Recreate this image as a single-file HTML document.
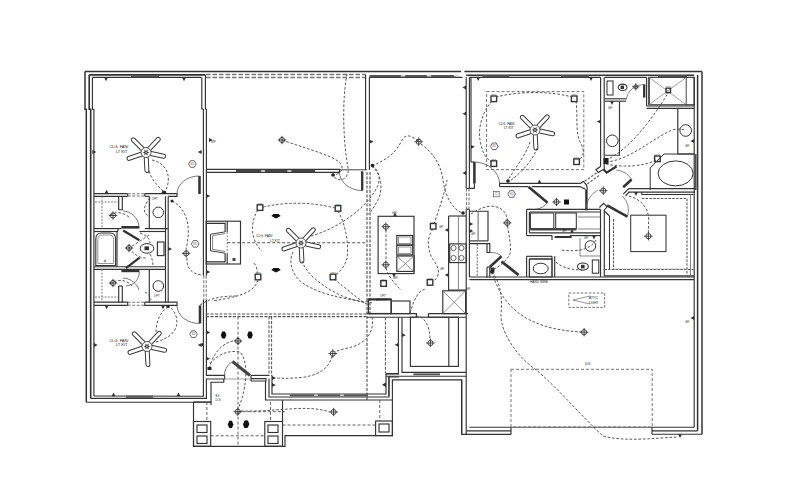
<!DOCTYPE html><html><head><meta charset="utf-8"><style>
html,body{margin:0;padding:0;background:#fff;}
svg{display:block;font-family:"Liberation Sans",sans-serif;}
</style></head><body>
<svg width="800" height="500" viewBox="0 0 800 500">
<rect width="800" height="500" fill="#fff"/>
<path d="M85.0,71.5 L85.0,109.2 L86.3,109.2 L86.3,402.2" stroke="#333" stroke-width="1.49" fill="none"/>
<path d="M89.2,74.9 L89.2,109.2 L90.7,109.2 L90.7,398.4" stroke="#333" stroke-width="1.61" fill="none"/>
<path d="M92.4,77.4 L92.4,109.2 L93.9,109.2 L93.9,396.0" stroke="#333" stroke-width="1.15" fill="none"/>
<path d="M85.0,71.5 L461.0,71.5" stroke="#333" stroke-width="1.38" fill="none"/>
<path d="M464.4,71.5 L702.0,71.5" stroke="#333" stroke-width="1.38" fill="none"/>
<path d="M89.2,74.9 L205.4,74.9" stroke="#333" stroke-width="1.61" fill="none"/>
<path d="M92.4,77.4 L201.6,77.4" stroke="#333" stroke-width="1.15" fill="none"/>
<rect x="131.0" y="75.2" width="28.0" height="2.0" fill="#555"/>
<path d="M201.8,77.4 L201.8,109.0 L203.4,109.0" stroke="#333" stroke-width="1.15" fill="none"/>
<path d="M205.4,74.9 L205.4,109.0 L206.4,109.0" stroke="#333" stroke-width="1.15" fill="none"/>
<path d="M206.0,74.6 L366.0,74.6" stroke="#777" stroke-width="1.49" fill="none" stroke-dasharray="4.5,2"/>
<path d="M206.0,77.4 L366.0,77.4" stroke="#777" stroke-width="1.49" fill="none" stroke-dasharray="4.5,2"/>
<path d="M93.9,193.6 L127.7,193.6" stroke="#333" stroke-width="1.15" fill="none"/>
<path d="M93.9,196.3 L127.7,196.3" stroke="#333" stroke-width="1.15" fill="none"/>
<path d="M127.7,193.6 L127.7,196.3" stroke="#333" stroke-width="1.15" fill="none"/>
<path d="M127.7,193.8 L144.8,193.8" stroke="#777" stroke-width="1.03" fill="none" stroke-dasharray="3,1.5"/>
<path d="M127.7,196.0 L144.8,196.0" stroke="#777" stroke-width="1.03" fill="none" stroke-dasharray="3,1.5"/>
<path d="M144.8,193.6 L177.0,193.6 L177.0,196.3 L168.2,196.3" stroke="#333" stroke-width="1.15" fill="none"/>
<path d="M144.8,196.3 L144.8,193.6" stroke="#333" stroke-width="1.15" fill="none"/>
<path d="M144.8,196.3 L149.3,196.3" stroke="#333" stroke-width="1.15" fill="none"/>
<path d="M199.5,176.0 L199.5,194.0" stroke="#333" stroke-width="2.53" fill="none"/>
<path d="M177,194 A22,18 0 0 1 199.5,176" stroke="#555" stroke-width="0.80" fill="none"/>
<path d="M118.7,196.3 L118.7,209.7 L122.3,209.7 L122.3,196.3" stroke="#333" stroke-width="1.15" fill="none"/>
<path d="M93.9,228.6 L121.4,228.6" stroke="#333" stroke-width="1.15" fill="none"/>
<rect x="121.4" y="226.0" width="18.0" height="2.6" fill="#333"/>
<path d="M149.3,196.3 L149.3,228.6 L168.2,228.6" stroke="#333" stroke-width="1.15" fill="none"/>
<path d="M144.8,228.6 L149.3,228.6" stroke="#333" stroke-width="1.15" fill="none"/>
<path d="M95.0,202.0 L118.0,202.0" stroke="#777" stroke-width="0.92" fill="none" stroke-dasharray="2,1.2"/>
<path d="M102.0,196.5 L102.0,228.0" stroke="#777" stroke-width="0.92" fill="none" stroke-dasharray="2,1.2"/>
<circle cx="158.3" cy="212.4" r="5.3" fill="none" stroke="#333" stroke-width="1"/>
<path d="M165.5,196.3 L165.5,302.5" stroke="#333" stroke-width="1.15" fill="none"/>
<path d="M168.2,196.3 L168.2,302.5" stroke="#333" stroke-width="1.15" fill="none"/>
<path d="M93.9,231.5 L118.0,231.5" stroke="#333" stroke-width="1.15" fill="none"/>
<path d="M118.0,231.5 L118.0,228.6" stroke="#333" stroke-width="1.15" fill="none"/>
<path d="M139.4,231.5 L165.5,231.5" stroke="#333" stroke-width="1.15" fill="none"/>
<path d="M95.8,265.5 L95.8,239 Q95.8,233 101.5,233 L110,233 Q115.6,233 115.6,239 L115.6,265.5 Z" fill="none" stroke="#333" stroke-width="1.1"/>
<path d="M97.8,263.5 L97.8,239.5 Q97.8,235 102,235 L109.5,235 Q113.6,235 113.6,239.5 L113.6,263.5 Z" fill="none" stroke="#777" stroke-width="0.8"/>
<circle cx="105" cy="261" r="0.9" fill="none" stroke="#444" stroke-width="0.6"/>
<path d="M117.0,231.5 L117.0,266.5" stroke="#333" stroke-width="1.15" fill="none"/>
<ellipse cx="147" cy="248.4" rx="6.8" ry="4.8" fill="none" stroke="#333" stroke-width="1"/>
<rect x="144.5" y="246.4" width="4.5" height="3.8" fill="#333"/>
<rect x="157.4" y="242.0" width="6.6" height="13.6" stroke="#333" stroke-width="1.15" fill="none"/>
<path d="M123.2,230.4 L139.4,240.3" stroke="#333" stroke-width="2.30" fill="none"/>
<path d="M126.0,268.2 L139.6,257.6" stroke="#333" stroke-width="2.30" fill="none"/>
<path d="M93.9,266.7 L165.5,266.7" stroke="#333" stroke-width="1.15" fill="none"/>
<path d="M93.9,269.4 L165.5,269.4" stroke="#333" stroke-width="1.15" fill="none"/>
<path d="M118.7,286.0 L118.7,302.7" stroke="#333" stroke-width="1.15" fill="none"/>
<path d="M122.3,286.0 L122.3,302.7" stroke="#333" stroke-width="1.15" fill="none"/>
<path d="M118.7,286.0 L122.3,286.0" stroke="#333" stroke-width="1.15" fill="none"/>
<rect x="121.4" y="269.6" width="18.0" height="2.6" fill="#333"/>
<path d="M139.4,272 C139,280 134,285 126,286" stroke="#555" stroke-width="0.80" fill="none"/>
<path d="M149.3,269.4 L149.3,302.7" stroke="#333" stroke-width="1.15" fill="none"/>
<circle cx="158.3" cy="286" r="5.3" fill="none" stroke="#333" stroke-width="1"/>
<path d="M95.0,297.0 L118.0,297.0" stroke="#777" stroke-width="0.92" fill="none" stroke-dasharray="2,1.2"/>
<path d="M102.0,269.4 L102.0,302.0" stroke="#777" stroke-width="0.92" fill="none" stroke-dasharray="2,1.2"/>
<path d="M93.9,302.1 L127.7,302.1" stroke="#333" stroke-width="1.15" fill="none"/>
<path d="M93.9,305.4 L127.7,305.4" stroke="#333" stroke-width="1.15" fill="none"/>
<path d="M127.7,302.1 L127.7,305.4" stroke="#333" stroke-width="1.15" fill="none"/>
<path d="M127.7,302.3 L144.8,302.3" stroke="#777" stroke-width="1.03" fill="none" stroke-dasharray="3,1.5"/>
<path d="M127.7,305.2 L144.8,305.2" stroke="#777" stroke-width="1.03" fill="none" stroke-dasharray="3,1.5"/>
<path d="M144.8,302.1 L177.0,302.1 L177.0,305.4 L144.8,305.4 L144.8,302.1" stroke="#333" stroke-width="1.15" fill="none"/>
<path d="M200.0,305.4 L200.0,323.4" stroke="#333" stroke-width="2.53" fill="none"/>
<path d="M177,305.4 A22,18 0 0 0 200,323.4" stroke="#555" stroke-width="0.80" fill="none"/>
<path d="M203.4,109.0 L203.4,275.7" stroke="#333" stroke-width="1.15" fill="none"/>
<path d="M206.4,109.0 L206.4,275.7" stroke="#333" stroke-width="1.15" fill="none"/>
<path d="M203.4,300.0 L203.4,396.2 L93.9,396.0" stroke="#333" stroke-width="1.15" fill="none"/>
<path d="M206.4,300.0 L206.4,375.4 L224.6,375.4 L224.6,379.0 L206.4,379.0 L206.4,398.4 L90.7,398.4" stroke="#333" stroke-width="1.15" fill="none"/>
<path d="M211.0,402.2 L86.3,402.2" stroke="#333" stroke-width="1.15" fill="none"/>
<path d="M211.0,405.0 L211.0,382.2 L223.8,382.2 L223.8,379.0" stroke="#333" stroke-width="1.15" fill="none"/>
<path d="M203.8,275.7 L203.8,300.0" stroke="#777" stroke-width="1.03" fill="none" stroke-dasharray="3,1.5"/>
<path d="M206.2,275.7 L206.2,300.0" stroke="#777" stroke-width="1.03" fill="none" stroke-dasharray="3,1.5"/>
<rect x="126.0" y="395.6" width="27.0" height="2.2" fill="#555"/>
<line x1="143.2" y1="149.7" x2="133.3" y2="139.8" stroke="#3a3a3a" stroke-width="5.0" stroke-linecap="round"/><line x1="143.2" y1="149.7" x2="133.3" y2="139.8" stroke="#fff" stroke-width="3.0" stroke-linecap="round"/><line x1="148.7" y1="149.6" x2="158.3" y2="139.3" stroke="#3a3a3a" stroke-width="5.0" stroke-linecap="round"/><line x1="148.7" y1="149.6" x2="158.3" y2="139.3" stroke="#fff" stroke-width="3.0" stroke-linecap="round"/><line x1="149.9" y1="153.3" x2="163.6" y2="156.2" stroke="#3a3a3a" stroke-width="5.0" stroke-linecap="round"/><line x1="149.9" y1="153.3" x2="163.6" y2="156.2" stroke="#fff" stroke-width="3.0" stroke-linecap="round"/><line x1="146.2" y1="156.5" x2="146.9" y2="170.5" stroke="#3a3a3a" stroke-width="5.0" stroke-linecap="round"/><line x1="146.2" y1="156.5" x2="146.9" y2="170.5" stroke="#fff" stroke-width="3.0" stroke-linecap="round"/><line x1="142.2" y1="153.8" x2="129.0" y2="158.4" stroke="#3a3a3a" stroke-width="5.0" stroke-linecap="round"/><line x1="142.2" y1="153.8" x2="129.0" y2="158.4" stroke="#fff" stroke-width="3.0" stroke-linecap="round"/>
<circle cx="146" cy="152.5" r="5" fill="#fff" stroke="#555" stroke-width="1"/>
<polygon points="149.4,152.5 147.4,153.3 147.7,155.4 146.0,154.1 144.3,155.4 144.6,153.3 142.6,152.5 144.6,151.7 144.3,149.6 146.0,150.9 147.7,149.6 147.4,151.7" fill="#333"/>
<circle cx="146" cy="152.5" r="0.9" fill="#bbb"/>
<line x1="144.2" y1="343.7" x2="134.3" y2="333.8" stroke="#3a3a3a" stroke-width="5.0" stroke-linecap="round"/><line x1="144.2" y1="343.7" x2="134.3" y2="333.8" stroke="#fff" stroke-width="3.0" stroke-linecap="round"/><line x1="149.7" y1="343.6" x2="159.3" y2="333.3" stroke="#3a3a3a" stroke-width="5.0" stroke-linecap="round"/><line x1="149.7" y1="343.6" x2="159.3" y2="333.3" stroke="#fff" stroke-width="3.0" stroke-linecap="round"/><line x1="150.9" y1="347.3" x2="164.6" y2="350.2" stroke="#3a3a3a" stroke-width="5.0" stroke-linecap="round"/><line x1="150.9" y1="347.3" x2="164.6" y2="350.2" stroke="#fff" stroke-width="3.0" stroke-linecap="round"/><line x1="147.2" y1="350.5" x2="147.9" y2="364.5" stroke="#3a3a3a" stroke-width="5.0" stroke-linecap="round"/><line x1="147.2" y1="350.5" x2="147.9" y2="364.5" stroke="#fff" stroke-width="3.0" stroke-linecap="round"/><line x1="143.2" y1="347.8" x2="130.0" y2="352.4" stroke="#3a3a3a" stroke-width="5.0" stroke-linecap="round"/><line x1="143.2" y1="347.8" x2="130.0" y2="352.4" stroke="#fff" stroke-width="3.0" stroke-linecap="round"/>
<circle cx="147" cy="346.5" r="5" fill="#fff" stroke="#555" stroke-width="1"/>
<polygon points="150.4,346.5 148.4,347.3 148.7,349.4 147.0,348.1 145.3,349.4 145.6,347.3 143.6,346.5 145.6,345.7 145.3,343.6 147.0,344.9 148.7,343.6 148.4,345.7" fill="#333"/>
<circle cx="147" cy="346.5" r="0.9" fill="#bbb"/>
<text x="109.5" y="148" font-size="3.9" fill="#222" text-anchor="start">CLG. FAN/</text>
<text x="116" y="152.5" font-size="3.9" fill="#222" text-anchor="start">LT KIT</text>
<text x="109.5" y="341.5" font-size="3.9" fill="#222" text-anchor="start">CLG. FAN/</text>
<text x="116" y="346" font-size="3.9" fill="#222" text-anchor="start">LT KIT</text>
<polygon points="196.2,164.0 194.3,167.3 190.5,167.3 188.6,164.0 190.5,160.7 194.3,160.7" fill="none" stroke="#444" stroke-width="0.8"/>
<text x="192.4" y="165.1" font-size="3" fill="#555" text-anchor="middle">SD</text>
<polygon points="199.0,243.9 197.1,247.2 193.3,247.2 191.4,243.9 193.3,240.6 197.1,240.6" fill="none" stroke="#444" stroke-width="0.8"/>
<text x="195.2" y="245.0" font-size="3" fill="#555" text-anchor="middle">SD</text>
<circle cx="186.2" cy="253.4" r="2.6" fill="none" stroke="#333" stroke-width="0.9"/>
<path d="M182.0,253.4 L190.4,253.4" stroke="#333" stroke-width="0.92" fill="none"/>
<path d="M186.2,249.2 L186.2,257.6" stroke="#333" stroke-width="0.92" fill="none"/>
<circle cx="113" cy="215.5" r="2.6" fill="none" stroke="#333" stroke-width="0.9"/>
<path d="M108.8,215.5 L117.2,215.5" stroke="#333" stroke-width="0.92" fill="none"/>
<path d="M113.0,211.3 L113.0,219.7" stroke="#333" stroke-width="0.92" fill="none"/>
<circle cx="113" cy="283" r="2.6" fill="none" stroke="#333" stroke-width="0.9"/>
<path d="M108.8,283.0 L117.2,283.0" stroke="#333" stroke-width="0.92" fill="none"/>
<path d="M113.0,278.8 L113.0,287.2" stroke="#333" stroke-width="0.92" fill="none"/>
<polygon points="92.4,150.1 92.4,153.9 96.2,152.0" fill="#333"/>
<polygon points="201.6,150.1 201.6,153.9 197.8,152.0" fill="#333"/>
<polygon points="93.9,343.1 93.9,346.9 97.7,345.0" fill="#333"/>
<polygon points="201.6,343.1 201.6,346.9 197.8,345.0" fill="#333"/>
<polygon points="111.6,396.2 115.4,396.2 113.5,392.4" fill="#333"/>
<polygon points="176.6,396.2 180.4,396.2 178.5,392.4" fill="#333"/>
<polygon points="104.7,193.6 108.5,193.6 106.6,189.8" fill="#333"/>
<polygon points="161.1,193.6 164.9,193.6 163.0,189.8" fill="#333"/>
<polygon points="104.7,305.4 108.5,305.4 106.6,309.2" fill="#333"/>
<polygon points="161.1,305.4 164.9,305.4 163.0,309.2" fill="#333"/>
<path d="M206.0,169.4 L339.4,169.4 L339.4,172.4 L206.0,172.4" stroke="#333" stroke-width="1.15" fill="none"/>
<rect x="236.0" y="169.6" width="79.0" height="2.8" fill="#444"/>
<ellipse cx="263" cy="171" rx="2.5" ry="1" fill="#ccc"/>
<ellipse cx="289.4" cy="171" rx="2.5" ry="1" fill="#ccc"/>
<path d="M339.4,169.8 L367.0,169.8" stroke="#333" stroke-width="0.92" fill="none"/>
<path d="M362.2,171.3 L362.2,190.6" stroke="#333" stroke-width="2.30" fill="none"/>
<path d="M339.4,172 A23,19 0 0 0 362.2,190.6" stroke="#555" stroke-width="0.80" fill="none"/>
<path d="M365.6,74.9 L365.6,170.0" stroke="#333" stroke-width="1.15" fill="none"/>
<path d="M369.4,77.3 L369.4,170.0" stroke="#333" stroke-width="1.15" fill="none"/>
<path d="M369.4,77.3 L462.4,77.3" stroke="#333" stroke-width="1.15" fill="none"/>
<rect x="369.4" y="75.0" width="86.6" height="2.3" fill="#555"/>
<ellipse cx="403" cy="75.7" rx="2.5" ry="1" fill="#ccc"/>
<ellipse cx="429" cy="75.7" rx="2.5" ry="1" fill="#ccc"/>
<ellipse cx="456" cy="75.7" rx="2.5" ry="1" fill="#ccc"/>
<path d="M367.0,172.0 L367.0,400.0" stroke="#555" stroke-width="1.15" fill="none" stroke-dasharray="3,1.5"/>
<path d="M370.0,172.0 L370.0,316.0" stroke="#555" stroke-width="1.15" fill="none" stroke-dasharray="3,1.5"/>
<rect x="206.2" y="221.2" width="34.3" height="42.8" stroke="#333" stroke-width="1.15" fill="none"/>
<path d="M206.2,223.3 L225.1,223.3 L225.1,231.9" stroke="#333" stroke-width="1.15" fill="none"/>
<path d="M206.2,261.8 L225.1,261.8 L225.1,253.2" stroke="#333" stroke-width="1.15" fill="none"/>
<path d="M227.2,221.2 L227.2,231.9" stroke="#333" stroke-width="1.15" fill="none"/>
<path d="M227.2,253.2 L227.2,264.0" stroke="#333" stroke-width="1.15" fill="none"/>
<path d="M225.1,231.9 L210.5,234.2 L210.5,250.8 L225.1,253.2" stroke="#444" stroke-width="1.00" fill="none"/>
<path d="M225.1,233.6 L212.6,235.6 L212.6,249.4 L225.1,251.5" stroke="#666" stroke-width="0.80" fill="none"/>
<rect x="232.5" y="258" width="3" height="3" fill="#444"/>
<path d="M227.2,232.0 L227.2,253.0" stroke="#777" stroke-width="0.92" fill="none" stroke-dasharray="2,1.4"/>
<path d="M227.2,242.8 L367.0,242.8" stroke="#555" stroke-width="1.03" fill="none" stroke-dasharray="3,2"/>
<path d="M206.0,314.0 L367.0,314.0" stroke="#555" stroke-width="1.15" fill="none" stroke-dasharray="3,1.5"/>
<path d="M206.0,316.6 L367.0,316.6" stroke="#555" stroke-width="1.15" fill="none" stroke-dasharray="3,1.5"/>
<path d="M269.0,316.6 L269.0,376.0" stroke="#555" stroke-width="1.03" fill="none" stroke-dasharray="3,1.5"/>
<path d="M271.6,316.6 L271.6,376.0" stroke="#555" stroke-width="1.03" fill="none" stroke-dasharray="3,1.5"/>
<path d="M238.0,316.6 L238.0,446.0" stroke="#555" stroke-width="0.92" fill="none" stroke-dasharray="3,2"/>
<path d="M251.0,375.4 L269.0,375.4" stroke="#333" stroke-width="1.15" fill="none"/>
<path d="M251.0,378.6 L266.0,378.6 L266.0,381.0 L251.0,381.0" stroke="#333" stroke-width="1.15" fill="none"/>
<path d="M251.0,375.4 L251.0,381.0" stroke="#333" stroke-width="1.15" fill="none"/>
<path d="M272.0,375.4 L272.0,394.0 L386.0,394.0 L386.0,374.0 L399.0,374.0" stroke="#333" stroke-width="1.15" fill="none"/>
<path d="M269.0,378.6 L269.0,397.0 L389.0,397.0 L389.0,377.0 L398.8,377.0" stroke="#333" stroke-width="1.15" fill="none"/>
<path d="M265.5,381.0 L265.5,400.0 L392.4,400.0 L392.4,379.8 L461.7,379.8 L461.7,434.4 L511.0,434.4" stroke="#333" stroke-width="1.15" fill="none"/>
<rect x="290.0" y="394.4" width="78.0" height="2.0" fill="#555"/>
<ellipse cx="316" cy="395.2" rx="2.2" ry="0.9" fill="#ccc"/>
<ellipse cx="342" cy="395.2" rx="2.2" ry="0.9" fill="#ccc"/>
<path d="M232.5,361.5 L250.0,375.5" stroke="#444" stroke-width="2.99" fill="none"/>
<path d="M224.6,378 A17,17 0 0 1 232.5,361.5" stroke="#555" stroke-width="0.80" fill="none"/>
<text x="215.5" y="396.5" font-size="3" fill="#222" text-anchor="start">EX</text>
<text x="215.5" y="401" font-size="3" fill="#222" text-anchor="start">D.S.</text>
<path d="M224.6,379.0 L251.0,379.0" stroke="#999" stroke-width="0.92" fill="none"/>
<path d="M193.5,402.0 L193.5,446.3 L285.0,446.3 L285.0,435.6 L392.4,435.6 L392.4,400.0" stroke="#333" stroke-width="1.15" fill="none"/>
<path d="M193.5,402.0 L211.0,402.0" stroke="#333" stroke-width="1.15" fill="none"/>
<rect x="193.5" y="421.5" width="17.2" height="24.8" stroke="#333" stroke-width="1.15" fill="none"/>
<rect x="197.0" y="425.0" width="10.0" height="7.5" stroke="#333" stroke-width="1.15" fill="none"/>
<rect x="197.0" y="436.0" width="10.0" height="7.5" stroke="#333" stroke-width="1.15" fill="none"/>
<rect x="264.8" y="421.5" width="17.7" height="24.8" stroke="#333" stroke-width="1.15" fill="none"/>
<rect x="268.0" y="425.0" width="10.0" height="7.5" stroke="#333" stroke-width="1.15" fill="none"/>
<rect x="268.0" y="436.0" width="10.0" height="7.5" stroke="#333" stroke-width="1.15" fill="none"/>
<rect x="375.6" y="421.0" width="16.8" height="14.6" stroke="#333" stroke-width="1.15" fill="none"/>
<rect x="379.0" y="424.0" width="10.0" height="8.0" stroke="#333" stroke-width="1.15" fill="none"/>
<path d="M282.5,400.0 L282.5,421.5" stroke="#333" stroke-width="1.15" fill="none"/>
<path d="M206.9,402.0 L206.9,421.5" stroke="#555" stroke-width="0.92" fill="none" stroke-dasharray="3,2"/>
<path d="M270.5,402.0 L270.5,421.5" stroke="#555" stroke-width="0.92" fill="none" stroke-dasharray="3,2"/>
<path d="M210.7,435.8 L264.8,435.8" stroke="#555" stroke-width="0.92" fill="none" stroke-dasharray="3,2"/>
<path d="M282.5,425.0 L375.6,425.0" stroke="#555" stroke-width="0.92" fill="none" stroke-dasharray="3,2"/>
<path d="M379.8,400.0 L379.8,421.0" stroke="#555" stroke-width="0.92" fill="none" stroke-dasharray="3,2"/>
<path d="M237.8,411.7 L285.0,411.7" stroke="#555" stroke-width="0.92" fill="none" stroke-dasharray="3,2"/>
<rect x="378.1" y="216.3" width="35.9" height="57.3" stroke="#333" stroke-width="1.15" fill="none"/>
<rect x="396.8" y="235.5" width="15.9" height="9.5" stroke="#333" stroke-width="1.15" fill="none"/>
<rect x="396.8" y="245.3" width="15.9" height="9.6" stroke="#333" stroke-width="1.15" fill="none"/>
<rect x="398.5" y="237.0" width="12.5" height="6.5" stroke="#666" stroke-width="0.69" fill="none"/>
<rect x="398.5" y="247.0" width="12.5" height="6.3" stroke="#666" stroke-width="0.69" fill="none"/>
<rect x="396.8" y="256.0" width="17.2" height="15.4" stroke="#333" stroke-width="1.15" fill="none"/>
<path d="M396.8,256.0 L414.0,271.4" stroke="#666" stroke-width="0.69" fill="none"/>
<path d="M414.0,256.0 L396.8,271.4" stroke="#666" stroke-width="0.69" fill="none"/>
<path d="M448.6,216.0 L448.6,290.0 L466.0,290.0" stroke="#333" stroke-width="1.15" fill="none"/>
<path d="M448.6,216.0 L466.0,216.0" stroke="#333" stroke-width="1.15" fill="none"/>
<path d="M458.4,216.0 L458.4,290.0" stroke="#666" stroke-width="0.80" fill="none"/>
<rect x="449.7" y="243.9" width="16.5" height="18.7" stroke="#333" stroke-width="1.15" fill="none"/>
<circle cx="453.5" cy="248" r="2.6" fill="none" stroke="#444" stroke-width="0.8"/>
<circle cx="461.5" cy="248" r="2.6" fill="none" stroke="#444" stroke-width="0.8"/>
<circle cx="453.5" cy="258" r="2.6" fill="none" stroke="#444" stroke-width="0.8"/>
<circle cx="461.5" cy="258" r="2.6" fill="none" stroke="#444" stroke-width="0.8"/>
<path d="M466.2,77.3 L466.2,188.4" stroke="#333" stroke-width="1.15" fill="none"/>
<path d="M469.4,77.3 L469.4,188.4" stroke="#333" stroke-width="1.15" fill="none"/>
<path d="M466.2,209.2 L466.2,434.0" stroke="#333" stroke-width="1.15" fill="none"/>
<path d="M469.4,209.2 L469.4,277.0" stroke="#333" stroke-width="1.15" fill="none"/>
<path d="M466.2,188.4 L469.4,188.4" stroke="#333" stroke-width="1.15" fill="none"/>
<path d="M466.2,209.2 L469.4,209.2" stroke="#333" stroke-width="1.15" fill="none"/>
<path d="M466.6,188.4 L466.6,209.2" stroke="#777" stroke-width="1.03" fill="none" stroke-dasharray="3,1.5"/>
<path d="M469.0,188.4 L469.0,209.2" stroke="#777" stroke-width="1.03" fill="none" stroke-dasharray="3,1.5"/>
<rect x="368.4" y="299.2" width="22.8" height="14.4" stroke="#333" stroke-width="1.38" fill="none"/>
<rect x="368.4" y="298.5" width="22.8" height="2.0" fill="#333"/>
<rect x="391.2" y="301.0" width="18.8" height="12.6" stroke="#333" stroke-width="1.15" fill="none"/>
<path d="M367.2,313.6 L416.4,313.6 L416.4,317.2 L367.2,317.2" stroke="#333" stroke-width="1.15" fill="none"/>
<path d="M428.4,313.6 L468.0,313.6" stroke="#333" stroke-width="1.15" fill="none"/>
<path d="M428.4,317.2 L466.2,317.2" stroke="#333" stroke-width="1.15" fill="none"/>
<path d="M428.4,313.6 L428.4,317.2" stroke="#333" stroke-width="1.15" fill="none"/>
<rect x="442.8" y="290.8" width="22.8" height="22.8" stroke="#333" stroke-width="1.15" fill="none"/>
<path d="M442.8,290.8 L465.6,313.6" stroke="#666" stroke-width="0.69" fill="none"/>
<path d="M465.6,290.8 L442.8,313.6" stroke="#666" stroke-width="0.69" fill="none"/>
<path d="M398.4,317.2 L398.4,373.6 L386.0,373.6" stroke="#333" stroke-width="1.15" fill="none"/>
<path d="M402.0,317.2 L402.0,372.4 L466.2,372.4" stroke="#333" stroke-width="1.15" fill="none"/>
<path d="M386.0,376.2 L466.2,376.2" stroke="#333" stroke-width="1.15" fill="none"/>
<path d="M388.9,376.2 L388.9,396.0" stroke="#333" stroke-width="1.15" fill="none"/>
<rect x="413.4" y="373.4" width="26.6" height="1.9" fill="#555"/>
<rect x="410.4" y="317.2" width="48.0" height="49.2" stroke="#333" stroke-width="1.15" fill="none"/>
<path d="M448.8,317.2 L448.8,366.4" stroke="#333" stroke-width="1.15" fill="none"/>
<path d="M385.4,317.2 L385.4,373.6" stroke="#555" stroke-width="1.03" fill="none" stroke-dasharray="3,1.5"/>
<path d="M469.4,77.3 L600.6,77.3" stroke="#333" stroke-width="1.15" fill="none"/>
<path d="M466.2,75.2 L694.2,75.2" stroke="#333" stroke-width="1.38" fill="none"/>
<rect x="482.5" y="75.2" width="26.9" height="2.1" fill="#555"/>
<rect x="561.0" y="75.2" width="28.0" height="2.1" fill="#555"/>
<rect x="658.0" y="75.2" width="29.0" height="2.1" fill="#555"/>
<path d="M471.0,77.3 L471.0,162.0" stroke="#333" stroke-width="1.15" fill="none"/>
<path d="M600.6,77.3 L600.6,166.2" stroke="#333" stroke-width="1.15" fill="none"/>
<path d="M604.2,77.3 L604.2,170.8" stroke="#333" stroke-width="1.15" fill="none"/>
<path d="M474.4,162.0 L474.4,183.6" stroke="#333" stroke-width="2.53" fill="none"/>
<path d="M474.4,162 A26,22 0 0 1 499.6,183.6" stroke="#555" stroke-width="0.80" fill="none"/>
<path d="M471.0,162.0 L474.4,162.0" stroke="#333" stroke-width="1.15" fill="none"/>
<path d="M469.4,188.4 L474.4,188.4 L474.4,183.6" stroke="#333" stroke-width="1.15" fill="none"/>
<path d="M499.6,183.3 L579.8,183.3" stroke="#333" stroke-width="1.15" fill="none"/>
<path d="M499.6,186.6 L528.0,186.6" stroke="#333" stroke-width="1.15" fill="none"/>
<path d="M499.6,183.3 L499.6,186.6" stroke="#333" stroke-width="1.15" fill="none"/>
<path d="M532.0,186.6 L580.0,186.6" stroke="#333" stroke-width="1.15" fill="none"/>
<path d="M528.4,186.8 L547.6,202.8" stroke="#333" stroke-width="2.53" fill="none"/>
<path d="M547.6,202.8 A20,20 0 0 1 529,209.2" stroke="#555" stroke-width="0.80" fill="none"/>
<rect x="486.6" y="91.6" width="97.2" height="78.0" stroke="#666" stroke-width="0.92" fill="none" stroke-dasharray="3,2"/>
<path d="M604.6,77.3 L646.6,77.3" stroke="#333" stroke-width="1.15" fill="none"/>
<path d="M604.6,98.8 L626.2,98.8" stroke="#333" stroke-width="1.15" fill="none"/>
<path d="M604.6,101.2 L626.2,101.2" stroke="#333" stroke-width="1.15" fill="none"/>
<rect x="607.0" y="81.0" width="6.0" height="14.0" stroke="#333" stroke-width="1.03" fill="none"/>
<ellipse cx="622.6" cy="87.3" rx="4.4" ry="3.2" fill="none" stroke="#333" stroke-width="1.1"/>
<rect x="620.6" y="85.6" width="3.4" height="3.4" fill="#333"/>
<path d="M644.2,84.4 L644.2,97.6" stroke="#333" stroke-width="2.30" fill="none"/>
<path d="M646.6,77.3 L646.6,106.0" stroke="#333" stroke-width="1.15" fill="none"/>
<path d="M649.0,77.3 L649.0,104.8" stroke="#333" stroke-width="1.15" fill="none"/>
<rect x="649.0" y="77.3" width="45.2" height="27.5" stroke="#333" stroke-width="1.15" fill="none"/>
<path d="M649.0,77.3 L686.2,104.8" stroke="#777" stroke-width="0.69" fill="none"/>
<path d="M686.2,77.3 L649.0,104.8" stroke="#777" stroke-width="0.69" fill="none"/>
<path d="M686.2,77.3 L686.2,104.8" stroke="#333" stroke-width="0.92" fill="none"/>
<path d="M646.6,106.0 L694.2,106.0" stroke="#333" stroke-width="1.15" fill="none"/>
<path d="M646.6,108.4 L694.2,108.4" stroke="#333" stroke-width="1.15" fill="none"/>
<path d="M619.5,101.2 L619.5,155.2 L604.6,155.2" stroke="#333" stroke-width="1.15" fill="none"/>
<circle cx="612.3" cy="140.8" r="5.8" fill="none" stroke="#333" stroke-width="1"/>
<path d="M677.8,108.4 L677.8,154.0 L694.2,154.0" stroke="#333" stroke-width="1.15" fill="none"/>
<circle cx="685.7" cy="130.5" r="5.8" fill="none" stroke="#333" stroke-width="1"/>
<path d="M650.2,190 L650.2,168 L664,154 L694.2,154" stroke="#333" stroke-width="1.00" fill="none"/>
<ellipse cx="675.6" cy="173.4" rx="17.5" ry="12.5" fill="none" stroke="#333" stroke-width="1"/>
<path d="M702.0,71.5 L702.0,434.2" stroke="#333" stroke-width="1.49" fill="none"/>
<path d="M697.6,74.9 L697.6,430.8" stroke="#333" stroke-width="1.49" fill="none"/>
<path d="M694.2,77.3 L694.2,427.2" stroke="#333" stroke-width="1.15" fill="none"/>
<rect x="694.2" y="154.0" width="2.4" height="36.0" fill="#555"/>
<path d="M600.8,166.2 L595.9,169.7 L598.2,172.4 L603.6,169.2" stroke="#333" stroke-width="1.15" fill="none"/>
<path d="M603.6,169.2 L606.6,172.6 L616.5,166.5" stroke="#333" stroke-width="2.07" fill="none"/>
<path d="M596.5,173.0 L583.5,182.0" stroke="#666" stroke-width="1.26" fill="none" stroke-dasharray="2.5,1.5"/>
<path d="M599.0,175.5 L586.0,185.0" stroke="#666" stroke-width="1.26" fill="none" stroke-dasharray="2.5,1.5"/>
<path d="M579.8,183.7 L583.3,181.4 L586.4,184.8 L587.5,189.3" stroke="#333" stroke-width="1.15" fill="none"/>
<path d="M579.8,186.5 L585.4,189.3" stroke="#333" stroke-width="1.15" fill="none"/>
<rect x="585.2" y="189.3" width="2.4" height="21.0" fill="#333"/>
<path d="M586,210.3 A22,22 0 0 1 598,190" stroke="#666" stroke-width="0.70" fill="none"/>
<path d="M599.4,207.5 L603.6,203.3 L607.1,206.8 L603.6,211" stroke="#333" stroke-width="1.10" fill="none"/>
<path d="M607.1,205.4 L627.4,216.6" stroke="#333" stroke-width="2.53" fill="none"/>
<path d="M627.4,216.6 A21,21 0 0 0 622.5,196" stroke="#555" stroke-width="0.70" fill="none"/>
<path d="M623.2,194.2 L628.8,188.6 L695.0,188.6" stroke="#333" stroke-width="1.15" fill="none"/>
<path d="M625.5,196.2 L628.8,192.1 L695.0,192.1" stroke="#333" stroke-width="1.15" fill="none"/>
<path d="M623.2,187.2 L631.6,179.5" stroke="#333" stroke-width="2.53" fill="none"/>
<path d="M631.6,179.5 A20,20 0 0 0 616.5,170" stroke="#555" stroke-width="0.70" fill="none"/>
<path d="M600.5,209.4 L600.5,277.0" stroke="#333" stroke-width="1.15" fill="none"/>
<path d="M604.3,211.0 L604.3,275.8 L694.2,275.8" stroke="#333" stroke-width="1.15" fill="none"/>
<path d="M604.3,211.0 L609.5,216.0" stroke="#333" stroke-width="1.15" fill="none"/>
<rect x="630.7" y="215.2" width="35.3" height="36.4" stroke="#333" stroke-width="1.03" fill="none"/>
<path d="M641.8,192.1 L641.8,194.6 L693.5,194.6" stroke="#333" stroke-width="1.03" fill="none"/>
<path d="M641.8,198.6 L687.0,198.6" stroke="#555" stroke-width="1.03" fill="none" stroke-dasharray="2.5,1.3"/>
<path d="M609.5,216.0 L609.5,269.5" stroke="#333" stroke-width="1.03" fill="none"/>
<path d="M613.5,219.0 L613.5,269.2" stroke="#555" stroke-width="1.03" fill="none" stroke-dasharray="2.5,1.3"/>
<path d="M604.3,269.5 L693.5,269.5" stroke="#555" stroke-width="1.03" fill="none" stroke-dasharray="2.5,1.3"/>
<path d="M613.5,269.2 L687.0,269.2" stroke="#777" stroke-width="0.69" fill="none"/>
<path d="M687.0,198.7 L687.0,275.0" stroke="#555" stroke-width="1.03" fill="none" stroke-dasharray="2.5,1.3"/>
<path d="M690.5,194.6 L690.5,275.0" stroke="#666" stroke-width="0.80" fill="none"/>
<path d="M469.4,211.2 L488.0,211.2 L488.0,240.9" stroke="#333" stroke-width="1.15" fill="none"/>
<path d="M478.1,212.0 L478.1,240.0" stroke="#555" stroke-width="0.92" fill="none"/>
<path d="M469.4,240.9 L488.0,240.9" stroke="#333" stroke-width="1.15" fill="none"/>
<path d="M469.4,243.6 L489.8,243.6 L489.8,252.5 L487.0,252.5 L487.0,243.6" stroke="#333" stroke-width="1.15" fill="none"/>
<path d="M477.2,244.0 L477.2,276.0" stroke="#666" stroke-width="1.03" fill="none" stroke-dasharray="2,1.3"/>
<path d="M489.8,267.0 L501.5,256.2" stroke="#333" stroke-width="2.53" fill="none"/>
<path d="M489.8,252.5 Q497,252 501.5,256.2" stroke="#555" stroke-width="0.70" fill="none"/>
<path d="M487.0,267.0 L489.8,267.0 L489.8,277.7" stroke="#333" stroke-width="1.15" fill="none"/>
<path d="M487.0,267.0 L487.0,277.7" stroke="#333" stroke-width="1.15" fill="none"/>
<path d="M501.5,261.5 L518.6,275.0" stroke="#333" stroke-width="2.76" fill="none"/>
<rect x="490.5" y="267.5" width="4" height="5" fill="#333"/>
<path d="M469.4,277.0 L694.2,277.0" stroke="#333" stroke-width="1.15" fill="none"/>
<path d="M469.4,279.6 L694.2,279.6" stroke="#333" stroke-width="1.15" fill="none"/>
<path d="M526.6,209.4 L600.5,209.4" stroke="#333" stroke-width="1.15" fill="none"/>
<path d="M526.6,209.4 L526.6,235.6" stroke="#333" stroke-width="1.15" fill="none"/>
<path d="M529.4,212.0 L529.4,232.8" stroke="#333" stroke-width="1.15" fill="none"/>
<path d="M529.4,212.0 L600.5,212.0" stroke="#333" stroke-width="1.15" fill="none"/>
<rect x="530.4" y="213.0" width="23.4" height="16.0" stroke="#333" stroke-width="1.03" fill="none"/>
<rect x="555.7" y="213.0" width="20.6" height="16.0" stroke="#333" stroke-width="1.03" fill="none"/>
<rect x="530.4" y="228.0" width="45.9" height="2.5" fill="#444"/>
<path d="M578.0,217.0 L600.5,217.0" stroke="#666" stroke-width="0.80" fill="none"/>
<path d="M578.0,229.0 L600.5,229.0" stroke="#666" stroke-width="0.80" fill="none"/>
<path d="M529.4,232.8 L600.5,232.8" stroke="#333" stroke-width="1.15" fill="none"/>
<path d="M526.6,235.6 L552.0,235.6" stroke="#333" stroke-width="1.15" fill="none"/>
<path d="M570.0,235.6 L600.5,235.6" stroke="#333" stroke-width="1.15" fill="none"/>
<path d="M552.0,235.6 L552.0,240.0" stroke="#333" stroke-width="1.15" fill="none"/>
<path d="M554.7,237.0 L571.6,237.0" stroke="#333" stroke-width="2.07" fill="none"/>
<path d="M552.0,256.3 L552.0,277.0" stroke="#333" stroke-width="1.15" fill="none"/>
<path d="M554.7,256.3 L554.7,277.0" stroke="#333" stroke-width="1.15" fill="none"/>
<path d="M526.6,256.3 L552.0,256.3" stroke="#333" stroke-width="1.15" fill="none"/>
<path d="M529.4,259.0 L552.0,259.0" stroke="#333" stroke-width="1.15" fill="none"/>
<path d="M526.6,256.3 L526.6,277.0" stroke="#333" stroke-width="1.15" fill="none"/>
<path d="M529.4,259.0 L529.4,277.0" stroke="#333" stroke-width="1.15" fill="none"/>
<ellipse cx="540.7" cy="268.5" rx="7.5" ry="5.3" fill="none" stroke="#333" stroke-width="1"/>
<rect x="529.4" y="259.0" width="22.6" height="18.0" stroke="#333" stroke-width="0.92" fill="none"/>
<circle cx="590.4" cy="246" r="5.3" fill="none" stroke="#333" stroke-width="1"/>
<path d="M580.0,238.0 L580.0,256.0 L600.5,256.0" stroke="#666" stroke-width="0.80" fill="none"/>
<ellipse cx="582.9" cy="266.6" rx="5.4" ry="3.6" fill="none" stroke="#333" stroke-width="1.1"/>
<rect x="581.0" y="264.8" width="3.6" height="3.6" fill="#333"/>
<rect x="592.3" y="260.0" width="6.5" height="13.2" stroke="#333" stroke-width="1.03" fill="none"/>
<path d="M469.4,427.2 L511.0,427.2" stroke="#333" stroke-width="1.15" fill="none"/>
<path d="M466.6,430.8 L511.0,430.8" stroke="#333" stroke-width="1.15" fill="none"/>
<path d="M511.0,427.2 L511.0,434.4" stroke="#333" stroke-width="1.15" fill="none"/>
<path d="M652.0,427.2 L694.2,427.2" stroke="#333" stroke-width="1.15" fill="none"/>
<path d="M652.0,430.8 L697.6,430.8" stroke="#333" stroke-width="1.15" fill="none"/>
<path d="M652.0,434.2 L702.0,434.2" stroke="#333" stroke-width="1.15" fill="none"/>
<path d="M652.0,427.2 L652.0,434.2" stroke="#333" stroke-width="1.15" fill="none"/>
<path d="M511.0,427.2 L652.0,427.2" stroke="#555" stroke-width="1.15" fill="none"/>
<rect x="511.0" y="369.3" width="141.2" height="57.7" stroke="#666" stroke-width="0.92" fill="none" stroke-dasharray="3,2"/>
<rect x="568.8" y="293.0" width="35.8" height="14.4" stroke="#666" stroke-width="0.92" fill="none" stroke-dasharray="2.5,1.5"/>
<path d="M573.0,300.0 L590.0,296.0" stroke="#666" stroke-width="0.69" fill="none"/>
<path d="M573.0,300.0 L590.0,304.0" stroke="#666" stroke-width="0.69" fill="none"/>
<text x="589" y="299" font-size="3.2" fill="#222" text-anchor="start">ATTIC</text>
<text x="589" y="304" font-size="3.2" fill="#222" text-anchor="start">LIGHT</text>
<path d="M461.7,379.8 L461.7,434.4" stroke="#333" stroke-width="1.15" fill="none"/>
<path d="M152,160 C166,163 173,176 165,192" stroke="#444" stroke-width="0.90" fill="none" stroke-dasharray="2.6,1.8"/>
<path d="M149,171 C152,181 159,187 164,192" stroke="#444" stroke-width="0.90" fill="none" stroke-dasharray="2.6,1.8"/>
<circle cx="164.5" cy="192.3" r="1.6" fill="#222"/>
<polygon points="104.1,77.4 107.9,77.4 106.0,81.2" fill="#333"/>
<polygon points="182.1,77.4 185.9,77.4 184.0,81.2" fill="#333"/>
<polygon points="209.0,138.1 209.0,141.9 212.8,140.0" fill="#333"/>
<text x="211" y="143" font-size="2.8" fill="#222" text-anchor="start">WP</text>
<path d="M123,211 C131,211 138,218 139,226" stroke="#555" stroke-width="0.80" fill="none"/>
<path d="M110,215 C118,210 126,214 130,218" stroke="#444" stroke-width="0.90" fill="none" stroke-dasharray="2.6,1.8"/>
<path d="M150,198 C144,205 142,212 148,216" stroke="#444" stroke-width="0.90" fill="none" stroke-dasharray="2.6,1.8"/>
<text x="152" y="200" font-size="2.8" fill="#222" text-anchor="start">OPT</text>
<path d="M140,233 C148,236 150,240 150,243" stroke="#444" stroke-width="0.90" fill="none" stroke-dasharray="2.6,1.8"/>
<path d="M149,235 C142,240 132,246 129,248" stroke="#444" stroke-width="0.90" fill="none" stroke-dasharray="2.6,1.8"/>
<circle cx="129" cy="248" r="2.6" fill="none" stroke="#333" stroke-width="0.9"/>
<path d="M124.8,248.0 L133.2,248.0" stroke="#333" stroke-width="0.92" fill="none"/>
<path d="M129.0,243.8 L129.0,252.2" stroke="#333" stroke-width="0.92" fill="none"/>
<path d="M129,248 C134,255 140,258 146,258" stroke="#444" stroke-width="0.90" fill="none" stroke-dasharray="2.6,1.8"/>
<path d="M150,254 C152,258 153,262 153,266" stroke="#444" stroke-width="0.90" fill="none" stroke-dasharray="2.6,1.8"/>
<path d="M172,201 C186,208 192,225 186,249" stroke="#444" stroke-width="0.90" fill="none" stroke-dasharray="2.6,1.8"/>
<circle cx="172" cy="201" r="1.5" fill="#222"/>
<polygon points="168.2,247.1 168.2,250.9 172.0,249.0" fill="#333"/>
<path d="M187,258 C186,266 190,274 202,275" stroke="#444" stroke-width="0.90" fill="none" stroke-dasharray="2.6,1.8"/>
<path d="M123,278 C131,278 138,285 139,290" stroke="#555" stroke-width="0.80" fill="none"/>
<path d="M110,284 C118,278 128,280 133,287" stroke="#444" stroke-width="0.90" fill="none" stroke-dasharray="2.6,1.8"/>
<path d="M145,292 C150,295 150,297 151,300" stroke="#444" stroke-width="0.90" fill="none" stroke-dasharray="2.6,1.8"/>
<text x="154" y="297" font-size="2.8" fill="#222" text-anchor="start">OPT</text>
<path d="M156,342 C170,338 180,330 176,316 C174,310 170,307 168,306" stroke="#444" stroke-width="0.90" fill="none" stroke-dasharray="2.6,1.8"/>
<path d="M156,332 C156,322 160,312 168,307" stroke="#444" stroke-width="0.90" fill="none" stroke-dasharray="2.6,1.8"/>
<circle cx="168" cy="306.5" r="1.6" fill="#222"/>
<path d="M200,305 C210,298 222,296 237,296" stroke="#444" stroke-width="0.90" fill="none" stroke-dasharray="2.6,1.8"/>
<path d="M209.5,368 C212,355 222,342 235.5,340.5" stroke="#444" stroke-width="0.90" fill="none" stroke-dasharray="2.6,1.8"/>
<path d="M210,364 C218,354 228,350 240,352 C248,360 248,385 238.5,408" stroke="#444" stroke-width="0.90" fill="none" stroke-dasharray="2.6,1.8"/>
<rect x="207.5" y="367" width="4" height="3" fill="#222"/>
<circle cx="238" cy="341" r="2.6" fill="none" stroke="#333" stroke-width="0.9"/>
<path d="M233.8,341.0 L242.2,341.0" stroke="#333" stroke-width="0.92" fill="none"/>
<path d="M238.0,336.8 L238.0,345.2" stroke="#333" stroke-width="0.92" fill="none"/>
<circle cx="237.8" cy="411.7" r="2.6" fill="none" stroke="#333" stroke-width="0.9"/>
<path d="M233.6,411.7 L242.0,411.7" stroke="#333" stroke-width="0.92" fill="none"/>
<path d="M237.8,407.5 L237.8,415.9" stroke="#333" stroke-width="0.92" fill="none"/>
<circle cx="333.6" cy="412" r="2.6" fill="none" stroke="#333" stroke-width="0.9"/>
<path d="M329.4,412.0 L337.8,412.0" stroke="#333" stroke-width="0.92" fill="none"/>
<path d="M333.6,407.8 L333.6,416.2" stroke="#333" stroke-width="0.92" fill="none"/>
<path d="M241,411 C280,412 305,404 330,412" stroke="#444" stroke-width="0.90" fill="none" stroke-dasharray="2.6,1.8"/>
<polygon points="220.79999999999998,335 222.2,331.4 225.0,331.4 226.4,335 225.0,338.6 222.2,338.6" fill="#111"/>
<polygon points="247.2,335 248.6,331.4 251.4,331.4 252.8,335 251.4,338.6 248.6,338.6" fill="#111"/>
<polygon points="227.79999999999998,424.4 229.2,420.79999999999995 232.0,420.79999999999995 233.4,424.4 232.0,428.0 229.2,428.0" fill="#111"/>
<polygon points="243.0,424.4 244.4,420.79999999999995 247.20000000000002,420.79999999999995 248.60000000000002,424.4 247.20000000000002,428.0 244.4,428.0" fill="#111"/>
<polygon points="243.7,424 245.1,420.4 247.9,420.4 249.3,424 247.9,427.6 245.1,427.6" fill="#111"/>
<polygon points="271.3,216 273.5,214 278.5,214 280.7,216 276,218.5" fill="#111"/>
<polygon points="271.3,270 273.5,268 278.5,268 280.7,270 276,272.5" fill="#111"/>
<rect x="257.2" y="204.8" width="5.6" height="5.6" stroke="#333" stroke-width="1.38" fill="none"/>
<text x="260" y="203.79999999999998" font-size="2.4" fill="#666" text-anchor="middle">REC</text>
<rect x="335.2" y="205.6" width="5.6" height="5.6" stroke="#333" stroke-width="1.38" fill="none"/>
<text x="338" y="204.6" font-size="2.4" fill="#666" text-anchor="middle">REC</text>
<rect x="255.2" y="274.2" width="5.6" height="5.6" stroke="#333" stroke-width="1.38" fill="none"/>
<text x="258" y="273.2" font-size="2.4" fill="#666" text-anchor="middle">REC</text>
<rect x="330.2" y="274.2" width="5.6" height="5.6" stroke="#333" stroke-width="1.38" fill="none"/>
<text x="333" y="273.2" font-size="2.4" fill="#666" text-anchor="middle">REC</text>
<line x1="298.2" y1="240.2" x2="288.3" y2="230.3" stroke="#3a3a3a" stroke-width="5.0" stroke-linecap="round"/><line x1="298.2" y1="240.2" x2="288.3" y2="230.3" stroke="#fff" stroke-width="3.0" stroke-linecap="round"/><line x1="303.7" y1="240.1" x2="313.3" y2="229.8" stroke="#3a3a3a" stroke-width="5.0" stroke-linecap="round"/><line x1="303.7" y1="240.1" x2="313.3" y2="229.8" stroke="#fff" stroke-width="3.0" stroke-linecap="round"/><line x1="304.9" y1="243.8" x2="318.6" y2="246.7" stroke="#3a3a3a" stroke-width="5.0" stroke-linecap="round"/><line x1="304.9" y1="243.8" x2="318.6" y2="246.7" stroke="#fff" stroke-width="3.0" stroke-linecap="round"/><line x1="301.2" y1="247.0" x2="301.9" y2="261.0" stroke="#3a3a3a" stroke-width="5.0" stroke-linecap="round"/><line x1="301.2" y1="247.0" x2="301.9" y2="261.0" stroke="#fff" stroke-width="3.0" stroke-linecap="round"/><line x1="297.2" y1="244.3" x2="284.0" y2="248.9" stroke="#3a3a3a" stroke-width="5.0" stroke-linecap="round"/><line x1="297.2" y1="244.3" x2="284.0" y2="248.9" stroke="#fff" stroke-width="3.0" stroke-linecap="round"/>
<circle cx="301" cy="243" r="5" fill="#fff" stroke="#555" stroke-width="1"/>
<polygon points="304.4,243.0 302.4,243.8 302.7,245.9 301.0,244.6 299.3,245.9 299.6,243.8 297.6,243.0 299.6,242.2 299.3,240.1 301.0,241.4 302.7,240.1 302.4,242.2" fill="#333"/>
<circle cx="301" cy="243" r="0.9" fill="#bbb"/>
<text x="256" y="237" font-size="3.4" fill="#222" text-anchor="start">CLG. FAN/</text>
<text x="270" y="242" font-size="3.4" fill="#222" text-anchor="start">LT KIT</text>
<path d="M263,207 Q300,199 335,208" stroke="#444" stroke-width="0.90" fill="none" stroke-dasharray="2.6,1.8"/>
<path d="M258,210 C250,222 250,240 262,251" stroke="#444" stroke-width="0.90" fill="none" stroke-dasharray="2.6,1.8"/>
<path d="M338,211 C346,225 349,245 347,258 C345,266 340,272 335,275" stroke="#444" stroke-width="0.90" fill="none" stroke-dasharray="2.6,1.8"/>
<path d="M311,236 C340,228 370,205 378,185 C381,177 378,170 373,166" stroke="#444" stroke-width="0.90" fill="none" stroke-dasharray="2.6,1.8"/>
<path d="M293,252 C288,262 292,276 304,284 C320,294 340,298 366,302" stroke="#444" stroke-width="0.90" fill="none" stroke-dasharray="2.6,1.8"/>
<path d="M302,261 C306,272 318,284 338,294 C348,299 358,301 366,303" stroke="#444" stroke-width="0.90" fill="none" stroke-dasharray="2.6,1.8"/>
<path d="M334,279 C344,287 352,294 366,304" stroke="#444" stroke-width="0.90" fill="none" stroke-dasharray="2.6,1.8"/>
<path d="M258,280 C255,290 246,296 212,301" stroke="#444" stroke-width="0.90" fill="none" stroke-dasharray="2.6,1.8"/>
<path d="M257,274 C258,268 255,264 253,262" stroke="#444" stroke-width="0.90" fill="none" stroke-dasharray="2.6,1.8"/>
<polygon points="206.4,194.1 206.4,197.9 210.2,196.0" fill="#333"/>
<polygon points="206.4,270.1 206.4,273.9 210.2,272.0" fill="#333"/>
<circle cx="282" cy="140" r="2.6" fill="none" stroke="#333" stroke-width="0.9"/>
<path d="M277.8,140.0 L286.2,140.0" stroke="#333" stroke-width="0.92" fill="none"/>
<path d="M282.0,135.8 L282.0,144.2" stroke="#333" stroke-width="0.92" fill="none"/>
<path d="M282,140 C310,150 335,156 341,164 C344,169 340,175 333,175" stroke="#444" stroke-width="0.90" fill="none" stroke-dasharray="2.6,1.8"/>
<path d="M347,74 C342,100 343,140 348,168 C350,178 340,184 333,176" stroke="#444" stroke-width="0.90" fill="none" stroke-dasharray="2.6,1.8"/>
<circle cx="333" cy="175" r="1.8" fill="#222"/>
<circle cx="418.7" cy="141.7" r="2.6" fill="none" stroke="#333" stroke-width="0.9"/>
<path d="M414.5,141.7 L422.9,141.7" stroke="#333" stroke-width="0.92" fill="none"/>
<path d="M418.7,137.5 L418.7,145.9" stroke="#333" stroke-width="0.92" fill="none"/>
<path d="M372,166 C385,160 395,155 402,140 C406,133 412,136 418,141" stroke="#444" stroke-width="0.90" fill="none" stroke-dasharray="2.6,1.8"/>
<path d="M421,144 C432,152 441,164 443,180 C445,195 452,210 463,213" stroke="#444" stroke-width="0.90" fill="none" stroke-dasharray="2.6,1.8"/>
<path d="M372,166 C382,175 383,190 378,200 C372,210 370,214 368,214" stroke="#444" stroke-width="0.90" fill="none" stroke-dasharray="2.6,1.8"/>
<circle cx="372.5" cy="165.6" r="1.8" fill="#222"/>
<circle cx="463" cy="213" r="1.8" fill="#222"/>
<polygon points="369.8,139.8 369.8,143.6 373.6,141.7" fill="#333"/>
<polygon points="466.2,85.6 466.2,89.4 462.4,87.5" fill="#333"/>
<polygon points="466.2,111.8 466.2,115.6 462.4,113.7" fill="#333"/>
<polygon points="466.2,171.1 466.2,174.9 462.4,173.0" fill="#333"/>
<circle cx="385.8" cy="226.7" r="2.6" fill="none" stroke="#333" stroke-width="0.9"/>
<path d="M381.6,226.7 L390.0,226.7" stroke="#333" stroke-width="0.92" fill="none"/>
<path d="M385.8,222.5 L385.8,230.9" stroke="#333" stroke-width="0.92" fill="none"/>
<circle cx="385.8" cy="264.8" r="2.6" fill="none" stroke="#333" stroke-width="0.9"/>
<path d="M381.6,264.8 L390.0,264.8" stroke="#333" stroke-width="0.92" fill="none"/>
<path d="M385.8,260.6 L385.8,269.0" stroke="#333" stroke-width="0.92" fill="none"/>
<path d="M386,230 L386,262" stroke="#444" stroke-width="0.90" fill="none" stroke-dasharray="2.6,1.8"/>
<path d="M386,268 C388,276 395,284 401,290" stroke="#444" stroke-width="0.90" fill="none" stroke-dasharray="2.6,1.8"/>
<rect x="430.4" y="223.5" width="5.6" height="5.6" stroke="#333" stroke-width="1.38" fill="none"/>
<text x="433.2" y="222.5" font-size="2.4" fill="#666" text-anchor="middle">REC</text>
<rect x="427.2" y="279.6" width="5.6" height="5.6" stroke="#333" stroke-width="1.38" fill="none"/>
<text x="430" y="278.59999999999997" font-size="2.4" fill="#666" text-anchor="middle">REC</text>
<rect x="380.8" y="280.7" width="5.6" height="5.6" stroke="#333" stroke-width="1.38" fill="none"/>
<text x="383.6" y="279.7" font-size="2.4" fill="#666" text-anchor="middle">REC</text>
<path d="M433,229 C426,238 428,250 432,258 C438,266 442,274 434,281" stroke="#444" stroke-width="0.90" fill="none" stroke-dasharray="2.6,1.8"/>
<path d="M434,224 C438,212 444,196 447,180" stroke="#444" stroke-width="0.90" fill="none" stroke-dasharray="2.6,1.8"/>
<polygon points="393.1,216.3 396.9,216.3 395.0,212.5" fill="#333"/>
<polygon points="392.1,273.6 395.9,273.6 394.0,277.4" fill="#333"/>
<text x="392" y="214" font-size="2.8" fill="#222" text-anchor="start">GFI</text>
<text x="393" y="279" font-size="2.8" fill="#222" text-anchor="start">GFI</text>
<polygon points="448.6,228.1 448.6,231.9 444.8,230.0" fill="#333"/>
<polygon points="448.6,273.1 448.6,276.9 444.8,275.0" fill="#333"/>
<polygon points="469.4,222.1 469.4,225.9 473.2,224.0" fill="#333"/>
<polygon points="469.4,229.1 469.4,232.9 473.2,231.0" fill="#333"/>
<text x="471" y="235" font-size="2.6" fill="#222" text-anchor="start">GFI</text>
<text x="439" y="228" font-size="2.6" fill="#222" text-anchor="start">GFI</text>
<text x="440" y="270" font-size="2.6" fill="#222" text-anchor="start">GFI</text>
<text x="380" y="297" font-size="2.8" fill="#222" text-anchor="start">OPT</text>
<text x="376" y="300.5" font-size="2.6" fill="#222" text-anchor="start">ARCHIVE</text>
<path d="M372,317 C374,328 370,340 355,346 C345,349 338,350 335,352" stroke="#444" stroke-width="0.90" fill="none" stroke-dasharray="2.6,1.8"/>
<circle cx="332.8" cy="353.5" r="2.6" fill="none" stroke="#333" stroke-width="0.9"/>
<path d="M328.6,353.5 L337.0,353.5" stroke="#333" stroke-width="0.92" fill="none"/>
<path d="M332.8,349.3 L332.8,357.7" stroke="#333" stroke-width="0.92" fill="none"/>
<path d="M332,356 C330,366 322,374 305,377 C290,379 280,378 274,378" stroke="#444" stroke-width="0.90" fill="none" stroke-dasharray="2.6,1.8"/>
<path d="M366,301 L372,303" stroke="#444" stroke-width="0.90" fill="none" stroke-dasharray="2.6,1.8"/>
<path d="M416,316 C424,316 430,325 430,340" stroke="#444" stroke-width="0.90" fill="none" stroke-dasharray="2.6,1.8"/>
<circle cx="430.4" cy="343" r="2.6" fill="none" stroke="#333" stroke-width="0.9"/>
<path d="M426.2,343.0 L434.6,343.0" stroke="#333" stroke-width="0.92" fill="none"/>
<path d="M430.4,338.8 L430.4,347.2" stroke="#333" stroke-width="0.92" fill="none"/>
<path d="M410,313 C414,300 418,290 426,289" stroke="#444" stroke-width="0.90" fill="none" stroke-dasharray="2.6,1.8"/>
<polygon points="402.0,333.3 402.0,337.1 405.8,335.2" fill="#333"/>
<polygon points="398.4,342.9 398.4,346.7 394.6,344.8" fill="#333"/>
<polygon points="386.0,382.5 386.0,386.3 382.2,384.4" fill="#333"/>
<polygon points="206.4,330.6 206.4,334.4 210.2,332.5" fill="#333"/>
<polygon points="206.4,356.8 206.4,360.6 210.2,358.7" fill="#333"/>
<polygon points="203.4,342.8 203.4,346.6 199.6,344.7" fill="#333"/>
<polygon points="197.3,334.2 195.4,337.5 191.6,337.5 189.7,334.2 191.6,330.9 195.4,330.9" fill="none" stroke="#444" stroke-width="0.8"/>
<text x="193.5" y="335.3" font-size="3" fill="#555" text-anchor="middle">SD</text>
<polygon points="272.0,376.1 272.0,379.9 275.8,378.0" fill="#333"/>
<polygon points="272.0,383.1 272.0,386.9 275.8,385.0" fill="#333"/>
<polygon points="386.0,383.1 386.0,386.9 382.2,385.0" fill="#333"/>
<rect x="491.0" y="96.0" width="5.6" height="5.6" stroke="#333" stroke-width="1.38" fill="none"/>
<text x="493.8" y="95.0" font-size="2.4" fill="#666" text-anchor="middle">REC</text>
<rect x="571.4" y="96.0" width="5.6" height="5.6" stroke="#333" stroke-width="1.38" fill="none"/>
<text x="574.2" y="95.0" font-size="2.4" fill="#666" text-anchor="middle">REC</text>
<rect x="491.0" y="160.8" width="5.6" height="5.6" stroke="#333" stroke-width="1.38" fill="none"/>
<text x="493.8" y="159.79999999999998" font-size="2.4" fill="#666" text-anchor="middle">REC</text>
<rect x="573.8" y="158.9" width="5.6" height="5.6" stroke="#333" stroke-width="1.38" fill="none"/>
<text x="576.6" y="157.89999999999998" font-size="2.4" fill="#666" text-anchor="middle">REC</text>
<line x1="532.2" y1="127.2" x2="522.3" y2="117.3" stroke="#3a3a3a" stroke-width="5.0" stroke-linecap="round"/><line x1="532.2" y1="127.2" x2="522.3" y2="117.3" stroke="#fff" stroke-width="3.0" stroke-linecap="round"/><line x1="537.7" y1="127.1" x2="547.3" y2="116.8" stroke="#3a3a3a" stroke-width="5.0" stroke-linecap="round"/><line x1="537.7" y1="127.1" x2="547.3" y2="116.8" stroke="#fff" stroke-width="3.0" stroke-linecap="round"/><line x1="538.9" y1="130.8" x2="552.6" y2="133.7" stroke="#3a3a3a" stroke-width="5.0" stroke-linecap="round"/><line x1="538.9" y1="130.8" x2="552.6" y2="133.7" stroke="#fff" stroke-width="3.0" stroke-linecap="round"/><line x1="535.2" y1="134.0" x2="535.9" y2="148.0" stroke="#3a3a3a" stroke-width="5.0" stroke-linecap="round"/><line x1="535.2" y1="134.0" x2="535.9" y2="148.0" stroke="#fff" stroke-width="3.0" stroke-linecap="round"/><line x1="531.2" y1="131.3" x2="518.0" y2="135.9" stroke="#3a3a3a" stroke-width="5.0" stroke-linecap="round"/><line x1="531.2" y1="131.3" x2="518.0" y2="135.9" stroke="#fff" stroke-width="3.0" stroke-linecap="round"/>
<circle cx="535" cy="130" r="5" fill="#fff" stroke="#555" stroke-width="1"/>
<polygon points="538.4,130.0 536.4,130.8 536.7,132.9 535.0,131.6 533.3,132.9 533.6,130.8 531.6,130.0 533.6,129.2 533.3,127.1 535.0,128.4 536.7,127.1 536.4,129.2" fill="#333"/>
<circle cx="535" cy="130" r="0.9" fill="#bbb"/>
<text x="498.6" y="125" font-size="3.3" fill="#222" text-anchor="start">CLG. FAN/</text>
<text x="504" y="129" font-size="3.3" fill="#222" text-anchor="start">LT KIT</text>
<polygon points="498.1,146.3 496.2,149.6 492.4,149.6 490.5,146.3 492.4,143.0 496.2,143.0" fill="none" stroke="#444" stroke-width="0.8"/>
<text x="494.3" y="147.4" font-size="3" fill="#555" text-anchor="middle">SD</text>
<path d="M496,97 C520,91 550,91 572,97" stroke="#444" stroke-width="0.90" fill="none" stroke-dasharray="2.6,1.8"/>
<path d="M576,101 C578,115 575,130 580,142 C586,152 583,158 578,160" stroke="#444" stroke-width="0.90" fill="none" stroke-dasharray="2.6,1.8"/>
<path d="M492,101 C482,112 478,128 480,140 C482,152 485,158 492,162" stroke="#444" stroke-width="0.90" fill="none" stroke-dasharray="2.6,1.8"/>
<path d="M530,142 C526,155 515,168 508,180" stroke="#444" stroke-width="0.90" fill="none" stroke-dasharray="2.6,1.8"/>
<path d="M537,148 C533,160 522,172 510,181" stroke="#444" stroke-width="0.90" fill="none" stroke-dasharray="2.6,1.8"/>
<circle cx="508" cy="181" r="1.8" fill="#222"/>
<polygon points="476.3,77.3 480.1,77.3 478.2,81.1" fill="#333"/>
<polygon points="589.1,77.3 592.9,77.3 591.0,81.1" fill="#333"/>
<polygon points="600.6,119.7 600.6,123.5 596.8,121.6" fill="#333"/>
<polygon points="471.0,144.9 471.0,148.7 474.8,146.8" fill="#333"/>
<polygon points="537.5,183.3 541.3,183.3 539.4,179.5" fill="#333"/>
<rect x="493.6" y="191.4" width="5.6" height="5.4" fill="none" stroke="#555" stroke-width="0.7"/>
<text x="496.4" y="195.2" font-size="3" fill="#222" text-anchor="middle">C</text>
<polygon points="515.4,194.0 513.5,197.3 509.7,197.3 507.8,194.0 509.7,190.7 513.5,190.7" fill="none" stroke="#444" stroke-width="0.8"/>
<text x="511.6" y="195.1" font-size="3" fill="#555" text-anchor="middle">SD</text>
<circle cx="556.5" cy="202" r="2.6" fill="none" stroke="#333" stroke-width="0.9"/>
<path d="M552.3,202.0 L560.7,202.0" stroke="#333" stroke-width="0.92" fill="none"/>
<path d="M556.5,197.8 L556.5,206.2" stroke="#333" stroke-width="0.92" fill="none"/>
<rect x="564" y="199.5" width="5" height="5" fill="#111"/>
<circle cx="603.3" cy="190.7" r="2.6" fill="none" stroke="#333" stroke-width="0.9"/>
<path d="M599.1,190.7 L607.5,190.7" stroke="#333" stroke-width="0.92" fill="none"/>
<path d="M603.3,186.5 L603.3,194.9" stroke="#333" stroke-width="0.92" fill="none"/>
<circle cx="507.2" cy="222.9" r="2.6" fill="none" stroke="#333" stroke-width="0.9"/>
<path d="M503.0,222.9 L511.4,222.9" stroke="#333" stroke-width="0.92" fill="none"/>
<path d="M507.2,218.7 L507.2,227.1" stroke="#333" stroke-width="0.92" fill="none"/>
<path d="M471,214 C478,209 488,205 495,206.5 C503,208 507,214 507.2,220" stroke="#444" stroke-width="0.90" fill="none" stroke-dasharray="2.6,1.8"/>
<path d="M507.5,226 C510,240 512,252 509,256 C505,262 500,266 494,269" stroke="#444" stroke-width="0.90" fill="none" stroke-dasharray="2.6,1.8"/>
<rect x="666.0" y="88.2" width="4.5" height="4.5" stroke="#333" stroke-width="1.38" fill="none"/>
<text x="668.2" y="87.15" font-size="2.4" fill="#666" text-anchor="middle">REC</text>
<rect x="654.6" y="156.0" width="5.6" height="5.6" stroke="#333" stroke-width="1.38" fill="none"/>
<text x="657.4" y="155.0" font-size="2.4" fill="#666" text-anchor="middle">REC</text>
<path d="M606,160 C630,150 655,115 668,93" stroke="#444" stroke-width="0.90" fill="none" stroke-dasharray="2.6,1.8"/>
<path d="M606,162 C630,160 650,140 672,130 C680,128 684,130 686,130" stroke="#444" stroke-width="0.90" fill="none" stroke-dasharray="2.6,1.8"/>
<path d="M606,164 C625,168 645,166 656,160" stroke="#444" stroke-width="0.90" fill="none" stroke-dasharray="2.6,1.8"/>
<rect x="603.5" y="158" width="5" height="6" fill="#222"/>
<text x="608" y="109" font-size="2.6" fill="#222" text-anchor="start">GFI</text>
<text x="685" y="147" font-size="2.6" fill="#222" text-anchor="start">GFI</text>
<circle cx="635.8" cy="86.8" r="2" fill="none" stroke="#333" stroke-width="0.9"/>
<path d="M632.2,86.8 L639.4,86.8" stroke="#333" stroke-width="0.92" fill="none"/>
<path d="M635.8,83.2 L635.8,90.4" stroke="#333" stroke-width="0.92" fill="none"/>
<path d="M626.2,99.5 A18,18 0 0 1 644.2,84.4" stroke="#555" stroke-width="0.70" fill="none"/>
<polygon points="610.1,101.2 613.9,101.2 612.0,105.0" fill="#333"/>
<polygon points="694.2,139.1 694.2,142.9 690.4,141.0" fill="#333"/>
<circle cx="648.4" cy="236.2" r="2.6" fill="none" stroke="#333" stroke-width="0.9"/>
<path d="M644.2,236.2 L652.6,236.2" stroke="#333" stroke-width="0.92" fill="none"/>
<path d="M648.4,232.0 L648.4,240.4" stroke="#333" stroke-width="0.92" fill="none"/>
<path d="M648.4,233 L648.6,218 C648,207 640,199 629,196" stroke="#444" stroke-width="0.90" fill="none" stroke-dasharray="2.6,1.8"/>
<polygon points="634.1,192.1 637.9,192.1 636.0,195.9" fill="#333"/>
<path d="M596,240 C590,250 578,252 560,250" stroke="#444" stroke-width="0.90" fill="none" stroke-dasharray="2.6,1.8"/>
<polygon points="570.1,232.8 573.9,232.8 572.0,229.0" fill="#333"/>
<text x="562" y="232" font-size="2.6" fill="#222" text-anchor="start">GFI</text>
<polygon points="592.1,235.6 595.9,235.6 594.0,239.4" fill="#333"/>
<text x="584" y="239" font-size="2.6" fill="#222" text-anchor="start">GFI</text>
<path d="M556,262 C560,266 568,270 582,270" stroke="#444" stroke-width="0.90" fill="none" stroke-dasharray="2.6,1.8"/>
<text x="530" y="283" font-size="3.2" fill="#222" text-anchor="start">HARD WIRE</text>
<circle cx="584.1" cy="332.2" r="2.6" fill="none" stroke="#333" stroke-width="0.9"/>
<path d="M579.9,332.2 L588.3,332.2" stroke="#333" stroke-width="0.92" fill="none"/>
<path d="M584.1,328.0 L584.1,336.4" stroke="#333" stroke-width="0.92" fill="none"/>
<path d="M492,272 C500,300 520,330 584,332" stroke="#444" stroke-width="0.90" fill="none" stroke-dasharray="2.6,1.8"/>
<path d="M492,272 C502,285 502,300 501,314 C500,330 515,355 535,369 C555,385 585,420 603,436 C625,442 655,438 678,437" stroke="#444" stroke-width="0.90" fill="none" stroke-dasharray="2.6,1.8"/>
<circle cx="492" cy="272" r="1.8" fill="#222"/>
<text x="585" y="365" font-size="2.6" fill="#222" text-anchor="start">DUS</text>
<polygon points="694.2,316.1 694.2,319.9 690.4,318.0" fill="#333"/>
<text x="685" y="323" font-size="2.6" fill="#222" text-anchor="start">GFI</text>
<polygon points="678.1,434.2 681.9,434.2 680.0,438.0" fill="#333"/>
<text x="466" y="290" font-size="2.6" fill="#222" text-anchor="start">GFI</text>
</svg></body></html>
